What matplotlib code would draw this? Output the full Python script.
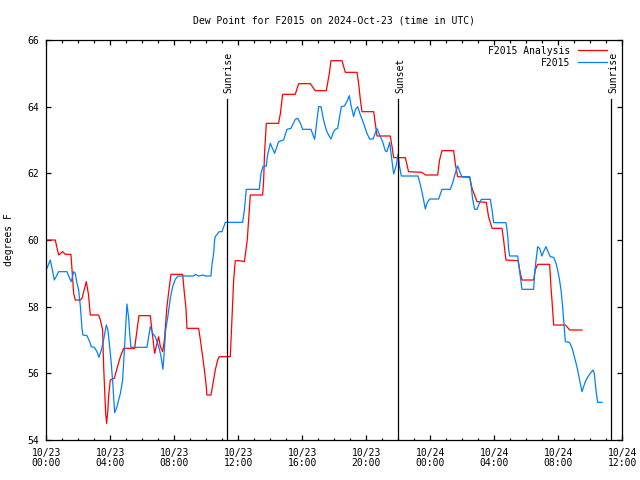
import matplotlib
matplotlib.use("Agg")
import matplotlib.pyplot as plt
from matplotlib.ticker import MultipleLocator

# hours since 2024-10-23 00:00 UTC
analysis_hours = [
    0.0, 0.56, 0.77, 1.02, 1.19, 1.54, 1.71, 1.81, 2.13, 2.23, 2.5, 2.64, 2.75,
    3.27, 3.38, 3.52, 3.58, 3.71, 3.77, 3.85, 3.89, 4.0, 4.25, 4.42, 4.63, 4.83,
    5.52, 5.67, 5.79, 6.5, 6.6, 6.77, 6.92, 7.02, 7.13, 7.27, 7.38, 7.54, 7.64,
    7.79, 8.52, 8.63, 8.73, 8.79, 9.52, 9.63, 9.83, 9.98, 10.04, 10.29, 10.42,
    10.56, 10.71, 10.81, 11.5, 11.6, 11.71, 11.81, 12.06, 12.38, 12.56, 12.75,
    13.52, 13.58, 13.64, 13.75, 14.52, 14.63, 14.77, 15.56, 15.71, 15.77, 16.5,
    16.81, 17.5, 17.58, 17.69, 17.79, 18.48, 18.69, 19.42, 19.52, 19.63, 19.73,
    20.46, 20.56, 20.67, 21.5, 21.61, 21.71, 22.44, 22.64, 23.48, 23.69, 24.46,
    24.58, 24.73, 25.46, 25.56, 25.71, 26.46, 26.61, 26.92, 27.5, 27.64, 27.86,
    28.48, 28.58, 28.69, 28.73, 29.48, 29.63, 29.73, 30.46, 30.56, 30.71, 31.46,
    31.54, 31.61, 31.71, 32.44, 32.54, 32.71, 33.48,
]
analysis_values = [
    60.0, 60.0, 59.55, 59.65, 59.57, 59.57, 58.4, 58.2, 58.2, 58.25, 58.75, 58.35,
    57.75, 57.75, 57.6, 57.3, 56.25, 54.8, 54.5, 54.9, 55.3, 55.8, 55.85, 56.15,
    56.5, 56.75, 56.75, 57.3, 57.73, 57.73, 57.3, 56.6, 56.9, 57.1, 56.8, 56.65,
    57.0, 58.0, 58.4, 58.97, 58.97, 58.4, 57.95, 57.35, 57.35, 57.0, 56.3, 55.7,
    55.35, 55.35, 55.7, 56.1, 56.4, 56.5, 56.5, 57.6, 58.8, 59.38, 59.38, 59.35,
    60.0, 61.35, 61.35, 61.75, 62.6, 63.5, 63.5, 63.8, 64.37, 64.37, 64.6, 64.69,
    64.69, 64.48, 64.48, 64.7, 65.0, 65.38, 65.38, 65.03, 65.03, 64.7, 64.2,
    63.85, 63.85, 63.5, 63.12, 63.12, 62.8, 62.47, 62.47, 62.05, 62.03, 61.95,
    61.95, 62.4, 62.68, 62.68, 62.3, 61.9, 61.88, 61.55, 61.15, 61.13, 60.7,
    60.35, 60.35, 60.0, 59.55, 59.4, 59.38, 59.0, 58.8, 58.8, 59.1, 59.27, 59.27,
    58.6, 58.15, 57.45, 57.45, 57.4, 57.3, 57.3,
]

station_hours = [
    0.04, 0.25, 0.36, 0.5, 0.67, 0.77, 1.29, 1.46, 1.56, 1.71, 1.81, 1.92, 2.02,
    2.13, 2.23, 2.29, 2.54, 2.71, 2.81, 3.0, 3.17, 3.29, 3.44, 3.58, 3.75, 3.85,
    3.94, 4.06, 4.17, 4.27, 4.42, 4.52, 4.63, 4.77, 4.88, 4.98, 5.04, 5.15, 5.21,
    5.29, 6.29, 6.4, 6.5, 6.65, 6.81, 6.96, 7.08, 7.17, 7.29, 7.38, 7.46, 7.58,
    7.75, 7.9, 8.06, 8.23, 9.21, 9.31, 9.52, 9.79, 9.94, 10.29, 10.35, 10.46,
    10.52, 10.56, 10.81, 10.98, 11.19, 12.27, 12.38, 12.5, 13.31, 13.42, 13.54,
    13.75, 13.83, 14.0, 14.27, 14.52, 14.83, 15.04, 15.29, 15.56, 15.71, 15.88,
    16.02, 16.54, 16.71, 16.77, 16.92, 17.02, 17.17, 17.33, 17.5, 17.64, 17.79,
    17.96, 18.06, 18.21, 18.33, 18.44, 18.63, 18.79, 18.94, 19.04, 19.21, 19.31,
    19.46, 19.63, 19.83, 20.04, 20.21, 20.42, 20.56, 20.67, 20.83, 21.02, 21.19,
    21.29, 21.46, 21.56, 21.71, 21.88, 21.98, 22.08, 22.19, 23.23, 23.38, 23.52,
    23.69, 23.79, 23.96, 24.52, 24.63, 24.73, 25.25, 25.42, 25.56, 25.71, 25.88,
    25.98, 26.46, 26.56, 26.64, 26.77, 26.92, 27.06, 27.19, 27.75, 27.86, 27.96,
    28.73, 28.81, 28.86, 28.89, 28.96, 29.46, 29.56, 29.63, 29.73, 30.46, 30.52,
    30.61, 30.71, 30.83, 30.98, 31.08, 31.23, 31.4, 31.5, 31.71, 31.86, 31.96,
    32.06, 32.17, 32.27, 32.38, 32.44, 32.69, 32.81, 32.9, 33.0, 33.1, 33.21,
    33.31, 33.42, 33.48, 33.58, 33.69, 33.83, 34.0, 34.17, 34.25, 34.31, 34.38,
    34.46, 34.73,
]
station_values = [
    59.15, 59.4, 59.15, 58.8, 58.95, 59.05, 59.05, 58.85, 58.75, 59.05, 59.0,
    58.7, 58.5, 58.0, 57.35, 57.15, 57.13, 56.95, 56.8, 56.78, 56.65, 56.48, 56.7,
    57.0, 57.45, 57.3, 56.9, 56.3, 55.6, 54.82, 55.0, 55.2, 55.4, 55.8, 56.7,
    57.6, 58.08, 57.65, 57.2, 56.78, 56.78, 57.1, 57.4, 57.2, 57.1, 56.9, 56.7,
    56.5, 56.12, 56.7, 57.3, 57.65, 58.25, 58.6, 58.82, 58.92, 58.92, 58.97,
    58.92, 58.95, 58.92, 58.92, 59.25, 59.6, 60.0, 60.1, 60.25, 60.25, 60.53,
    60.53, 60.9, 61.52, 61.52, 62.0, 62.2, 62.22, 62.55, 62.9, 62.6, 62.95, 63.0,
    63.32, 63.35, 63.62, 63.65, 63.5, 63.32, 63.32, 63.1, 63.02, 63.6, 64.0,
    64.0, 63.6, 63.3, 63.15, 63.03, 63.25, 63.32, 63.35, 63.7, 64.0, 64.02,
    64.15, 64.33, 64.05, 63.7, 63.9, 64.0, 63.75, 63.5, 63.2, 63.03, 63.03, 63.2,
    63.34, 63.15, 62.95, 62.67, 62.65, 62.93, 62.55, 61.98, 62.25, 62.57, 62.2,
    61.92, 61.92, 61.65, 61.35, 60.93, 61.1, 61.23, 61.23, 61.38, 61.52, 61.52,
    61.75, 62.0, 62.22, 62.0, 61.9, 61.9, 61.6, 61.25, 60.92, 60.92, 61.1, 61.22,
    61.22, 60.9, 60.52, 60.52, 60.25, 60.0, 59.75, 59.52, 59.52, 59.15, 58.9,
    58.52, 58.52, 59.0, 59.4, 59.8, 59.75, 59.52, 59.65, 59.8, 59.6, 59.5, 59.48,
    59.3, 59.1, 58.85, 58.5, 58.0, 57.3, 56.95, 56.93, 56.82, 56.7, 56.5, 56.32,
    56.1, 55.85, 55.6, 55.45, 55.6, 55.75, 55.88, 56.0, 56.1, 56.0, 55.7, 55.4,
    55.13, 55.13,
]

sun_hours = [11.27, 22.0, 35.31]
sun_labels = ["Sunrise", "Sunset", "Sunrise"]

tick_hours = [0, 4, 8, 12, 16, 20, 24, 28, 32, 36]
tick_labels = [
    "10/23\n00:00", "10/23\n04:00", "10/23\n08:00", "10/23\n12:00",
    "10/23\n16:00", "10/23\n20:00", "10/24\n00:00", "10/24\n04:00",
    "10/24\n08:00", "10/24\n12:00",
]

plt.rcParams["font.family"] = "DejaVu Sans Mono"
plt.rcParams["font.size"] = 7

fig = plt.figure(figsize=(6.4, 4.8), dpi=100)
ax = fig.add_axes([46.3 / 640, 40 / 480, 576 / 640, 400 / 480])

ax.plot(analysis_hours, analysis_values, color="#ff0000", lw=0.9,
        label="F2015 Analysis")
ax.plot(station_hours, station_values, color="#0080ff", lw=0.9, label="F2015")

# sunrise / sunset markers
for h, name in zip(sun_hours, sun_labels):
    ax.plot([h, h], [54, 64.22], color="black", lw=0.9)
    ax.text(h + 0.12, 64.42, name, rotation=90, ha="center", va="bottom")

ax.set_xlim(0, 36)
ax.set_ylim(54, 66)
ax.set_xticks(tick_hours)
ax.set_xticklabels(tick_labels, linespacing=1.0)
ax.xaxis.set_minor_locator(MultipleLocator(1))
ax.set_yticks(range(54, 67, 2))

ax.tick_params(which="both", direction="in", top=True, right=True, width=0.9)
ax.tick_params(which="major", length=3.5, pad=5)
ax.tick_params(axis="x", which="major", pad=6)
ax.tick_params(which="minor", length=1.8)
for s in ax.spines.values():
    s.set_linewidth(0.9)

ax.set_ylabel("degrees F", labelpad=10)
ax.set_title("Dew Point for F2015 on 2024-Oct-23 (time in UTC)",
             fontsize=7, pad=12)

leg = ax.legend(loc="upper right", frameon=False, markerfirst=False,
                handlelength=3.0, handletextpad=0.8, labelspacing=0.2,
                borderaxespad=0.0, bbox_to_anchor=(0.98, 0.995))
for t in leg.get_texts():
    t.set_ha("right")

fig.savefig("out.png", dpi=100)
